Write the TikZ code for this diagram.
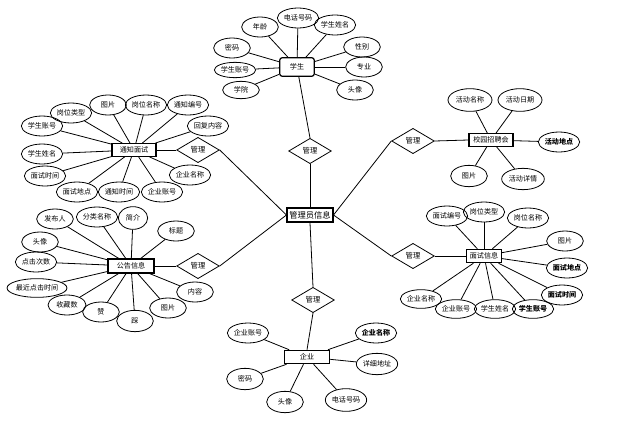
\documentclass[tikz,border=0pt]{standalone}
\usepackage{fontspec}
\setmainfont{Noto Sans CJK SC}
\usetikzlibrary{shapes.geometric}
\begin{document}
\begin{tikzpicture}[x=0.75pt,y=-0.75pt,
 attr/.style={ellipse,draw,line width=0.6pt,minimum width=31pt,minimum height=15pt,inner sep=0pt,font=\fontsize{5.3}{6}\selectfont},
 attrs/.style={attr,minimum width=27.5pt},
 battr/.style={attr,font=\fontsize{5.3}{6}\selectfont\bfseries},
 ent/.style={rectangle,draw,line width=0.9pt,minimum width=33pt,minimum height=9.5pt,inner sep=0pt,font=\fontsize{5.3}{6}\selectfont},
 rel/.style={diamond,draw,line width=0.6pt,minimum width=32pt,minimum height=19pt,inner sep=0pt,font=\fontsize{5.5}{6}\selectfont},
 link/.style={line width=0.6pt}]
\useasboundingbox (0,0) rectangle (618,425);

% entities
\node[ent,line width=1.3pt,minimum width=34pt,minimum height=10.5pt,font=\fontsize{6.2}{7}\selectfont] (adm) at (310,215) {管理员信息};
\node[ent,rounded corners=2pt,minimum width=26pt,minimum height=14pt] (stu) at (297,67) {学生};
\node[ent] (tz) at (134,150) {通知面试};
\node[ent,minimum width=34.5pt,minimum height=10.5pt] (gg) at (131,266) {公告信息};
\node[ent] (xy) at (491,140) {校园招聘会};
\node[ent,minimum width=26pt,minimum height=10pt] (ms) at (484,256) {面试信息};
\node[ent,minimum width=34pt,minimum height=10pt] (qy) at (307,357) {企业};

% relationships
\node[rel] (dS) at (310,151) {管理};
\node[rel] (dXY) at (413,141) {管理};
\node[rel] (dTZ) at (198,150) {管理};
\node[rel] (dGG) at (198,266) {管理};
\node[rel] (dMS) at (413,256) {管理};
\node[rel] (dQY) at (313,300) {管理};

\draw[link] (dS.south) -- (adm.north);
\draw[link] (dXY.west) -- (adm.east);
\draw[link] (dMS.west) -- (adm.east);
\draw[link] (dTZ.east) -- (adm.west);
\draw[link] (dGG.east) -- (adm.west);
\draw[link] (adm.south) -- (dQY.north);
\draw[link] (stu) -- (dS.north);
\draw[link] (tz.east) -- (dTZ.west);
\draw[link] (gg.east) -- (dGG.west);
\draw[link] (dXY.east) -- (xy.west);
\draw[link] (dMS.east) -- (ms.west);
\draw[link] (dQY.south) -- (qy.north);

% student attributes
\node[attrs] (s1) at (260,27) {年龄};
\node[attr] (s2) at (298,18) {电话号码};
\node[attr] (s3) at (335,25) {学生姓名};
\node[attrs] (s4) at (232,48) {密码};
\node[attr,minimum height=11.5pt] (s5) at (235,70) {学生账号};
\node[attrs,minimum height=13pt] (s6) at (241,90) {学院};
\node[attrs] (s7) at (362,47) {性别};
\node[attrs] (s8) at (364,67) {专业};
\node[attrs] (s9) at (355,90) {头像};
\foreach \a in {s1,s2,s3,s4,s5,s6,s7,s8,s9} \draw[link] (\a) -- (stu);

% 通知面试 attributes
\node[attr] (t1) at (71,113) {岗位类型};
\node[attrs] (t2) at (108,105) {图片};
\node[attr] (t3) at (146,105) {岗位名称};
\node[attr] (t4) at (188,105) {通知编号};
\node[attr] (t5) at (208,126) {回复内容};
\node[attr] (t6) at (42,126) {学生账号};
\node[attr] (t7) at (42,154) {学生姓名};
\node[attr] (t8) at (45,176) {面试时间};
\node[attr] (t9) at (77,192) {面试地点};
\node[attr] (t10) at (119,192) {通知时间};
\node[attr] (t11) at (162,192) {企业账号};
\node[attr] (t12) at (190,175) {企业名称};
\foreach \a in {t1,t2,t3,t4,t5,t6,t7,t8,t9,t10,t11,t12} \draw[link] (\a) -- (tz);

% 公告信息 attributes
\node[attrs] (g1) at (55,219) {发布人};
\node[attr] (g2) at (97,217) {分类名称};
\node[attrs,minimum width=22pt,minimum height=17pt] (g3) at (133,218) {简介};
\node[attrs] (g4) at (176,231) {标题};
\node[attrs] (g5) at (40,242) {头像};
\node[attr] (g6) at (36,262) {点击次数};
\node[attr,minimum width=43pt,minimum height=14pt] (g7) at (37,288) {最近点击时间};
\node[attrs,minimum width=28.5pt] (g8) at (67,305) {收藏数};
\node[attrs] (g9) at (101,312) {赞};
\node[attrs,minimum height=16pt] (g10) at (135,321) {踩};
\node[attrs] (g11) at (168,308) {图片};
\node[attrs] (g12) at (195,292) {内容};
\foreach \a in {g1,g2,g3,g4,g5,g6,g7,g8,g9,g10,g11,g12} \draw[link] (\a) -- (gg);

% 校园招聘会 attributes
\node[attr,minimum width=33pt,minimum height=17pt] (x1) at (470,100) {活动名称};
\node[attr,minimum width=33pt,minimum height=17pt] (x2) at (520,100) {活动日期};
\node[battr] (x3) at (559,142) {活动地点};
\node[attrs,minimum height=16pt] (x4) at (469,176) {图片};
\node[attr,minimum width=32pt,minimum height=16pt] (x5) at (523,179) {活动详情};
\foreach \a in {x1,x2,x3,x4,x5} \draw[link] (\a) -- (xy);

% 面试信息 attributes
\node[attr] (m1) at (447,216) {面试编号};
\node[attr] (m2) at (484,212) {岗位类型};
\node[attr] (m3) at (528,218) {岗位名称};
\node[attrs] (m4) at (565,241) {图片};
\node[battr] (m5) at (567,268) {面试地点};
\node[battr] (m6) at (562,295) {面试时间};
\node[attr,minimum height=14pt] (m7) at (421,299) {企业名称};
\node[attr,minimum height=14pt] (m8) at (456,309) {企业账号};
\node[attr,minimum height=14pt] (m9) at (495,309) {学生姓名};
\node[battr,minimum height=14pt] (m10) at (533,309) {学生账号};
\foreach \a in {m1,m2,m3,m4,m5,m6,m7,m8,m9,m10} \draw[link] (\a) -- (ms);

% 企业 attributes
\node[attr] (q1) at (248,333) {企业账号};
\node[battr] (q2) at (376,333) {企业名称};
\node[attr,minimum height=16pt] (q3) at (377,364) {详细地址};
\node[attrs,minimum height=16pt] (q4) at (245,379) {密码};
\node[attrs,minimum height=16pt] (q5) at (285,402) {头像};
\node[attr,minimum height=17pt] (q6) at (346,400) {电话号码};
\foreach \a in {q1,q2,q3,q4,q5,q6} \draw[link] (\a) -- (qy);
\end{tikzpicture}
\end{document}
